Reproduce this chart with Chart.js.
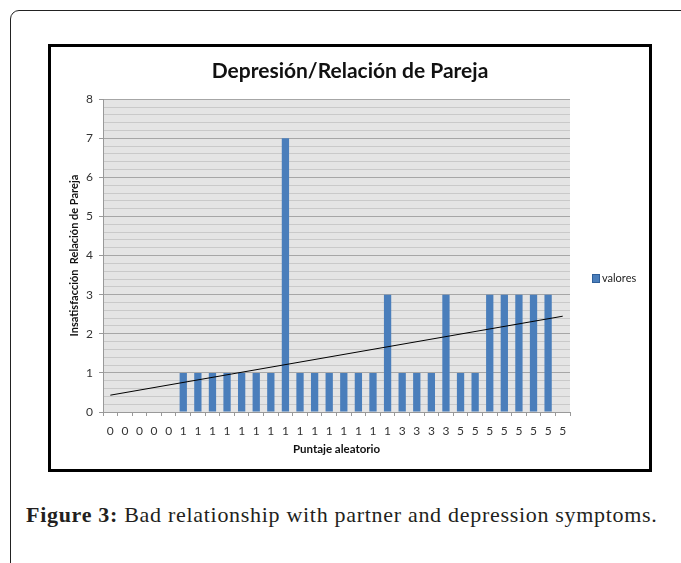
<!DOCTYPE html>
<html>
<head>
<meta charset="utf-8">
<script src="https://cdn.jsdelivr.net/npm/chart.js@4"></script>
<style>
  body { margin: 0; background: #fff; width: 681px; height: 563px; overflow: hidden; position: relative; }
  .frame { position: absolute; left: 10px; top: 10px; width: 720px; height: 600px; border: 1.5px solid #222; border-top-left-radius: 9px; }
  .box { position: absolute; left: 48px; top: 44px; width: 598px; height: 422px; border: 3px solid #000; background: #fff; }
  .box canvas { position: absolute; left: 0; top: 0; }
  .legend { position: absolute; left: 541px; top: 224px; font: 11px Lato, sans-serif; color: #222; white-space: nowrap; }
  .legend span.sw { display: inline-block; width: 6px; height: 7px; background: #4a7ebb; border: 0.5px solid #2f5f99; margin-right: 2px; vertical-align: -1px; }
  .caption { position: absolute; left: 26px; top: 502px; font: 22px "Liberation Serif", serif; letter-spacing: 0.7px; color: #231f20; white-space: nowrap; }
</style>
</head>
<body>
<div class="frame"></div>
<div class="box">
  <canvas id="chart" width="598" height="422"></canvas>
  <div class="legend"><span class="sw"></span>valores</div>
</div>
<div class="caption"><b>Figure 3:</b> Bad relationship with partner and depression symptoms.</div>

<script>
// puntaje aleatorio (x labels)
const labels = ['0','0','0','0','0','1','1','1','1','1','1','1','1','1','1','1','1','1','1','1','3','3','3','3','5','5','5','5','5','5','5','5'];
// insatisfaccion relacion de pareja
const valores = [0,0,0,0,0,1,1,1,1,1,1,1,7,1,1,1,1,1,1,3,1,1,1,3,1,1,3,3,3,3,3,0];
// trend line: first and last point
const trendStart = 0.43;
const trendEnd = 2.45;

const trend = labels.map((_, i) => i === 0 ? trendStart : (i === labels.length - 1 ? trendEnd : null));

const plotBg = {
  id: 'plotBg',
  beforeDraw(chart) {
    const { ctx, chartArea: a } = chart;
    ctx.save();
    ctx.fillStyle = '#e4e4e4';
    ctx.fillRect(a.left, a.top, a.right - a.left, a.bottom - a.top);
    ctx.restore();
  }
};

const isMajor = v => Math.abs(v - Math.round(v)) < 1e-6;

new Chart(document.getElementById('chart').getContext('2d'), {
  type: 'bar',
  data: {
    labels: labels,
    datasets: [
      {
        type: 'line',
        label: 'tendencia',
        data: trend,
        spanGaps: true,
        borderColor: '#000',
        borderWidth: 1,
        pointRadius: 0,
        order: 0
      },
      {
        label: 'valores',
        data: valores,
        backgroundColor: '#4a7ebb',
        barPercentage: 0.5,
        categoryPercentage: 1,
        order: 1
      }
    ]
  },
  options: {
    responsive: false,
    animation: false,
    layout: { padding: 0 },
    plugins: {
      legend: { display: false },
      tooltip: { enabled: false },
      title: {
        display: true,
        text: 'Depresión/Relación de Pareja',
        color: '#111',
        font: { family: 'Lato', size: 21, weight: 'bold' },
        padding: { top: 12, bottom: 15 }
      }
    },
    scales: {
      x: {
        grid: { drawOnChartArea: false, drawTicks: true, tickLength: 4, color: '#999', offset: true },
        border: { color: '#999' },
        ticks: { autoSkip: false, maxRotation: 0, color: '#333', padding: 8, font: { family: 'Lato', size: 12 } },
        title: { display: true, text: 'Puntaje aleatorio', color: '#111', font: { family: 'Lato', size: 11.5, weight: 'bold' }, padding: { top: 0, bottom: 13 } },
        afterFit: s => { s.height = 57; }
      },
      y: {
        min: 0,
        max: 8,
        grid: {
          color: c => isMajor(c.tick.value) ? '#a6a6a6' : '#c9c9c9',
          tickColor: c => isMajor(c.tick.value) ? '#999' : 'rgba(0,0,0,0)',
          tickLength: 4
        },
        border: { color: '#999' },
        ticks: {
          stepSize: 0.2,
          autoSkip: false,
          color: '#333',
          padding: 6,
          font: { family: 'Lato', size: 12 },
          callback: v => isMajor(v) ? String(Math.round(v)) : ''
        },
        title: { display: true, text: 'Insatisfacción  Relación de Pareja', color: '#111', font: { family: 'Lato', size: 11, weight: 'bold' }, padding: { top: 17, bottom: 0 } },
        afterFit: s => { s.width = 52; }
      },
      // empty right-hand strip that leaves room for the legend
      legendSpace: {
        type: 'linear',
        position: 'right',
        grid: { display: false, drawTicks: false },
        border: { display: false },
        ticks: { display: false },
        afterFit: s => { s.width = 79; }
      }
    }
  },
  plugins: [plotBg]
});
</script>
</body>
</html>
